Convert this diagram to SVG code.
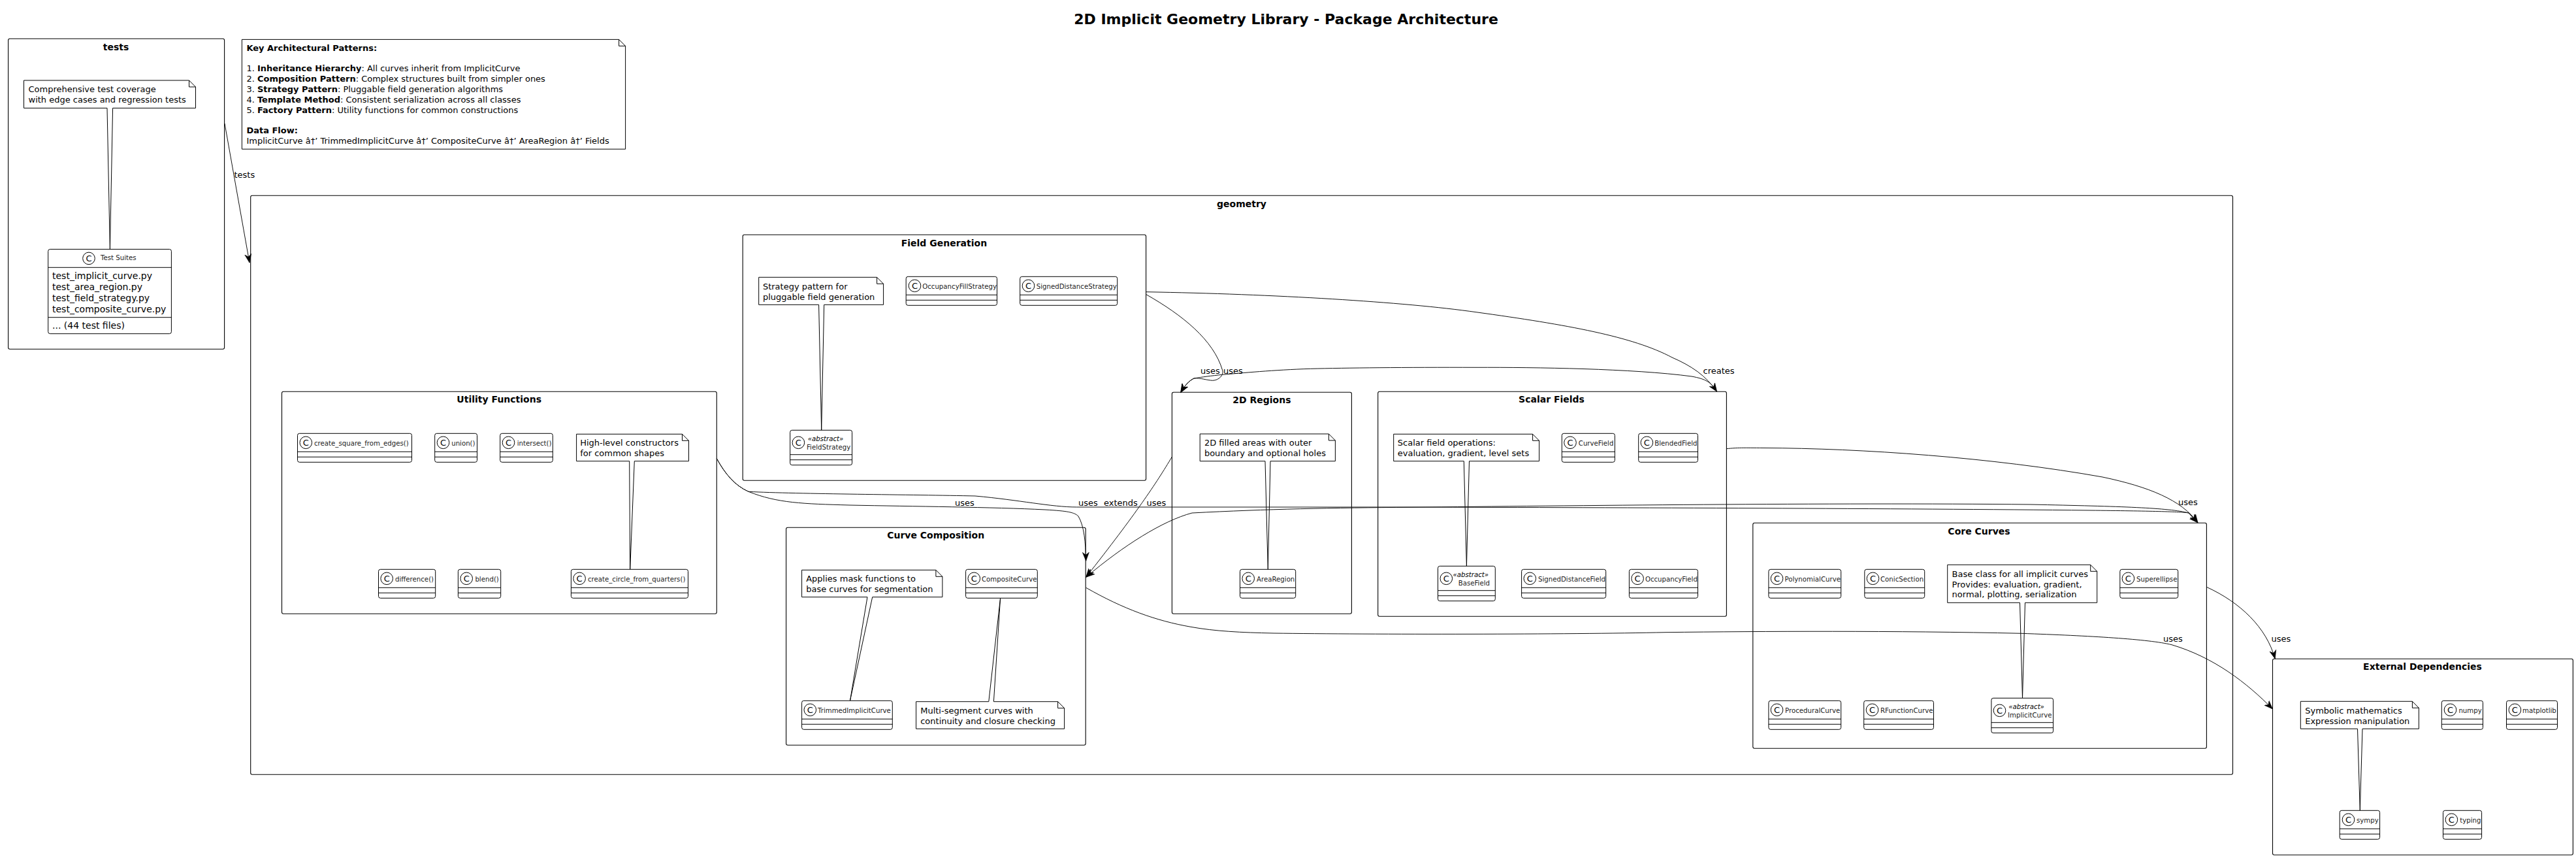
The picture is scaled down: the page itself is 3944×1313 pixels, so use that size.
<svg xmlns="http://www.w3.org/2000/svg" width="3944" height="1313" viewBox="0 0 3944 1313">
<style>
text{font-family:"DejaVu Sans",sans-serif;fill:#000}
.pkg{fill:none;stroke:#000;stroke-width:1.1}
.box{fill:#fff;stroke:#000;stroke-width:1}
.ln{fill:none;stroke:#000;stroke-width:1}
.note{fill:#fff;stroke:#000;stroke-width:1}
.spot{fill:#fff;stroke:#000;stroke-width:1}
.c{font-size:13px;text-anchor:middle}
.cn{font-size:10.2px;fill:#222}
.ab{font-size:10.2px;font-style:italic}
.n{font-size:13px}
.f{font-size:14px}
.pt{font-size:14px;font-weight:700;text-anchor:middle}
.lb{font-size:13px}
.tt{font-size:22px;font-weight:700;text-anchor:middle}
.cx{fill:none;stroke:#111;stroke-width:1}
</style>
<defs>
<marker id="arr" markerUnits="userSpaceOnUse" markerWidth="14" markerHeight="12" refX="13" refY="5" orient="auto" viewBox="0 0 14 10"><path d="M13 5L0 0L4 5L0 10Z" fill="#000" stroke="#000" stroke-width=".6"/></marker>
</defs>
<rect width="3944" height="1313" fill="#fff"/>
<text class="tt" x="1969" y="36.7">2D Implicit Geometry Library - Package Architecture</text>

<g id="packages">
<g id="pkg-tests"><rect class="pkg" x="12.6" y="59.3" width="331" height="475" rx="2.5"/><text class="pt" x="177.5" y="76.7">tests</text></g>
<g id="pkg-geometry"><rect class="pkg" x="383.7" y="299.3" width="3034.8" height="886" rx="2.5"/><text class="pt" x="1901" y="316.7">geometry</text></g>
<g id="pkg-field-generation"><rect class="pkg" x="1137.2" y="359.3" width="617.4" height="376" rx="2.5"/><text class="pt" x="1445.4" y="377">Field Generation</text></g>
<g id="pkg-2d-regions"><rect class="pkg" x="1794.4" y="600.3" width="275" height="339" rx="2.5"/><text class="pt" x="1931.9" y="617">2D Regions</text></g>
<g id="pkg-scalar-fields"><rect class="pkg" x="2109.7" y="599.3" width="533.7" height="344" rx="2.5"/><text class="pt" x="2375.5" y="616">Scalar Fields</text></g>
<g id="pkg-utility"><rect class="pkg" x="431.5" y="599.3" width="665.8" height="340" rx="2.5"/><text class="pt" x="764.2" y="616">Utility Functions</text></g>
<g id="pkg-composition"><rect class="pkg" x="1203.6" y="807.3" width="458.6" height="333" rx="2.5"/><text class="pt" x="1432.7" y="823.7">Curve Composition</text></g>
<g id="pkg-core"><rect class="pkg" x="2683.8" y="800.3" width="694.6" height="345" rx="2.5"/><text class="pt" x="3030" y="817.7">Core Curves</text></g>
<g id="pkg-external"><rect class="pkg" x="3479.5" y="1008.3" width="459.9" height="300" rx="2.5"/><text class="pt" x="3709" y="1025.3">External Dependencies</text></g>
</g>

<g id="note-patterns"><path class="note" d="M370.4 60.4H947.6L957.6 70.4V228.2H370.4ZM947.6 60.4V70.4H957.6"/>
<text class="n" x="377.4" y="77.9" font-weight="700">Key Architectural Patterns:</text>
<text class="n" x="377.4" y="109">1. <tspan font-weight="700">Inheritance Hierarchy</tspan>: All curves inherit from ImplicitCurve</text>
<text class="n" x="377.4" y="125">2. <tspan font-weight="700">Composition Pattern</tspan>: Complex structures built from simpler ones</text>
<text class="n" x="377.4" y="141">3. <tspan font-weight="700">Strategy Pattern</tspan>: Pluggable field generation algorithms</text>
<text class="n" x="377.4" y="157">4. <tspan font-weight="700">Template Method</tspan>: Consistent serialization across all classes</text>
<text class="n" x="377.4" y="173">5. <tspan font-weight="700">Factory Pattern</tspan>: Utility functions for common constructions</text>
<text class="n" x="377.4" y="204" font-weight="700">Data Flow:</text>
<text class="n" x="377.4" y="220.4">ImplicitCurve â†’ TrimmedImplicitCurve â†’ CompositeCurve â†’ AreaRegion â†’ Fields</text></g>

<g id="note-tests"><path class="note" d="M36.5 123H289.5L299.5 133V165.4H172.6L168.4 381.4L164 165.4H36.5ZM289.5 123V133H299.5"/>
<text class="n" x="43.5" y="141">Comprehensive test coverage</text><text class="n" x="43.5" y="157">with edge cases and regression tests</text></g>

<g id="note-strategy"><path class="note" d="M1161.7 424.3H1342.6L1352.6 434.3V466.3H1261.7L1257.7 658.3L1253.6 466.3H1161.7ZM1342.6 424.3V434.3H1352.6"/>
<text class="n" x="1167.9" y="442.7">Strategy pattern for</text><text class="n" x="1167.9" y="458.7">pluggable field generation</text></g>

<g id="note-regions"><path class="note" d="M1837.2 664H2034.4L2044.4 674V705.7H1945L1941.3 871.3L1937 705.7H1837.2ZM2034.4 664V674H2044.4"/>
<text class="n" x="1843.9" y="681.7">2D filled areas with outer</text><text class="n" x="1843.9" y="697.7">boundary and optional holes</text></g>

<g id="note-scalar"><path class="note" d="M2133.7 664.3H2346.6L2356.6 674.3V705.7H2249.5L2245.4 866.3L2241.3 705.7H2133.7ZM2346.6 664.3V674.3H2356.6"/>
<text class="n" x="2139.8" y="681.7">Scalar field operations:</text><text class="n" x="2139.8" y="697.7">evaluation, gradient, level sets</text></g>

<g id="note-utility"><path class="note" d="M882.6 664.3H1044.5L1054.5 674.3V705.7H971.3L964.7 871.3L963.7 705.7H882.6ZM1044.5 664.3V674.3H1054.5"/>
<text class="n" x="888.2" y="681.7">High-level constructors</text><text class="n" x="888.2" y="697.7">for common shapes</text></g>

<g id="note-trimmed"><path class="note" d="M1227.6 872.3H1432.9L1442.9 882.3V913.7H1335.7L1301.5 1072.3L1328 913.7H1227.6ZM1432.9 872.3V882.3H1442.9"/>
<text class="n" x="1234.2" y="890">Applies mask functions to</text><text class="n" x="1234.2" y="906">base curves for segmentation</text></g>

<g id="note-composite"><path class="note" d="M1402.6 1073.7H1513.8L1531.6 915.3L1521.4 1073.7H1619.6L1629.6 1083.7V1115.3H1402.6ZM1619.6 1073.7V1083.7H1629.6"/>
<text class="n" x="1409.2" y="1091.7">Multi-segment curves with</text><text class="n" x="1409.2" y="1107.7">continuity and closure checking</text></g>

<g id="note-core"><path class="note" d="M2981.7 864.3H3200.7L3210.7 874.3V922.3H3100.5L3096.5 1068.3L3092.5 922.3H2981.7ZM3200.7 864.3V874.3H3210.7"/>
<text class="n" x="2988.6" y="882.7">Base class for all implicit curves</text><text class="n" x="2988.6" y="898.7">Provides: evaluation, gradient,</text><text class="n" x="2988.6" y="914">normal, plotting, serialization</text></g>

<g id="note-sympy"><path class="note" d="M3522.3 1073.3H3693.4L3703.4 1083.3V1115.3H3617L3613.3 1240.3L3609.5 1115.3H3522.3ZM3693.4 1073.3V1083.3H3703.4"/>
<text class="n" x="3529.2" y="1091.7">Symbolic mathematics</text><text class="n" x="3529.2" y="1107.7">Expression manipulation</text></g>

<g id="class-test-suites"><rect class="box" x="73.7" y="381.4" width="188.7" height="129.3" rx="3"/><path class="ln" d="M73.7 409.3H262.4M73.7 485.7H262.4"/><circle class="spot" cx="136" cy="395.4" r="9.3"/><text class="c" x="136" y="400.1">C</text><text class="cn" x="154" y="398">Test Suites</text>
<text class="f" x="80" y="426.8">test_implicit_curve.py</text><text class="f" x="80" y="444">test_area_region.py</text><text class="f" x="80" y="460.7">test_field_strategy.py</text><text class="f" x="80" y="477.9">test_composite_curve.py</text><text class="f" x="80" y="502.5">... (44 test files)</text></g>

<g id="class-occupancy-fill-strategy"><rect class="box" x="1387.2" y="423.3" width="139.3" height="44" rx="3"/><path class="ln" d="M1387.2 451.3h139.3M1387.2 459.3h139.3"/><circle class="spot" cx="1400.5" cy="437.3" r="9.3"/><text class="c" x="1400.5" y="442">C</text><text class="cn" x="1412.2" y="441.7">OccupancyFillStrategy</text></g>
<g id="class-signed-distance-strategy"><rect class="box" x="1561.7" y="423.3" width="149" height="44" rx="3"/><path class="ln" d="M1561.7 451.3h149M1561.7 459.3h149"/><circle class="spot" cx="1574.5" cy="437.3" r="9.3"/><text class="c" x="1574.5" y="442">C</text><text class="cn" x="1586.7" y="441.7">SignedDistanceStrategy</text></g>
<g id="class-field-strategy"><rect class="box" x="1209.7" y="658.3" width="94.9" height="53.4" rx="3"/><path class="ln" d="M1209.7 695.7h94.9M1209.7 703.7h94.9"/><circle class="spot" cx="1222.4" cy="677.3" r="9.3"/><text class="c" x="1222.4" y="682">C</text><text class="ab" x="1236.7" y="675">«abstract»</text><text class="cn" x="1235" y="687.7">FieldStrategy</text></g>
<g id="class-area-region"><rect class="box" x="1898.5" y="871.3" width="85.2" height="44" rx="3"/><path class="ln" d="M1898.5 899.3h85.2M1898.5 907.3h85.2"/><circle class="spot" cx="1911.2" cy="885.3" r="9.3"/><text class="c" x="1911.2" y="890">C</text><text class="cn" x="1924" y="889.7">AreaRegion</text></g>
<g id="class-curve-field"><rect class="box" x="2391.3" y="663.3" width="81.1" height="44" rx="3"/><path class="ln" d="M2391.3 691.3h81.1M2391.3 699.3h81.1"/><circle class="spot" cx="2404" cy="677.3" r="9.3"/><text class="c" x="2404" y="682">C</text><text class="cn" x="2416.8" y="681.7">CurveField</text></g>
<g id="class-blended-field"><rect class="box" x="2508.7" y="663.3" width="90.8" height="44" rx="3"/><path class="ln" d="M2508.7 691.3h90.8M2508.7 699.3h90.8"/><circle class="spot" cx="2521.4" cy="677.3" r="9.3"/><text class="c" x="2521.4" y="682">C</text><text class="cn" x="2533.2" y="681.7">BlendedField</text></g>
<g id="class-base-field"><rect class="box" x="2201.5" y="866.3" width="87.8" height="53.4" rx="3"/><path class="ln" d="M2201.5 903.7h87.8M2201.5 911.7h87.8"/><circle class="spot" cx="2214.3" cy="885.3" r="9.3"/><text class="c" x="2214.3" y="890">C</text><text class="ab" x="2224.5" y="883.3">«abstract»</text><text class="cn" x="2232.7" y="895.7">BaseField</text></g>
<g id="class-signed-distance-field"><rect class="box" x="2329.6" y="871.3" width="129.1" height="44" rx="3"/><path class="ln" d="M2329.6 899.3h129.1M2329.6 907.3h129.1"/><circle class="spot" cx="2342.3" cy="885.3" r="9.3"/><text class="c" x="2342.3" y="890">C</text><text class="cn" x="2355" y="889.7">SignedDistanceField</text></g>
<g id="class-occupancy-field"><rect class="box" x="2494.4" y="871.3" width="105.1" height="44" rx="3"/><path class="ln" d="M2494.4 899.3h105.1M2494.4 907.3h105.1"/><circle class="spot" cx="2507.1" cy="885.3" r="9.3"/><text class="c" x="2507.1" y="890">C</text><text class="cn" x="2518.9" y="889.7">OccupancyField</text></g>
<g id="class-create-square"><rect class="box" x="455.5" y="663.3" width="175" height="44" rx="3"/><path class="ln" d="M455.5 691.3h175M455.5 699.3h175"/><circle class="spot" cx="468.3" cy="677.3" r="9.3"/><text class="c" x="468.3" y="682">C</text><text class="cn" x="481" y="681.7">create_square_from_edges()</text></g>
<g id="class-union"><rect class="box" x="665.7" y="663.3" width="64.8" height="44" rx="3"/><path class="ln" d="M665.7 691.3h64.8M665.7 699.3h64.8"/><circle class="spot" cx="678.5" cy="677.3" r="9.3"/><text class="c" x="678.5" y="682">C</text><text class="cn" x="691.2" y="681.7">union()</text></g>
<g id="class-intersect"><rect class="box" x="765.7" y="663.3" width="80.6" height="44" rx="3"/><path class="ln" d="M765.7 691.3h80.6M765.7 699.3h80.6"/><circle class="spot" cx="778.5" cy="677.3" r="9.3"/><text class="c" x="778.5" y="682">C</text><text class="cn" x="791.7" y="681.7">intersect()</text></g>
<g id="class-difference"><rect class="box" x="579.5" y="871.3" width="87.2" height="44" rx="3"/><path class="ln" d="M579.5 899.3h87.2M579.5 907.3h87.2"/><circle class="spot" cx="592.2" cy="885.3" r="9.3"/><text class="c" x="592.2" y="890">C</text><text class="cn" x="605" y="889.7">difference()</text></g>
<g id="class-blend"><rect class="box" x="701.4" y="871.3" width="65.3" height="44" rx="3"/><path class="ln" d="M701.4 899.3h65.3M701.4 907.3h65.3"/><circle class="spot" cx="714.2" cy="885.3" r="9.3"/><text class="c" x="714.2" y="890">C</text><text class="cn" x="727.4" y="889.7">blend()</text></g>
<g id="class-create-circle"><rect class="box" x="874.4" y="871.3" width="179.1" height="44" rx="3"/><path class="ln" d="M874.4 899.3h179.1M874.4 907.3h179.1"/><circle class="spot" cx="887.1" cy="885.3" r="9.3"/><text class="c" x="887.1" y="890">C</text><text class="cn" x="899.9" y="889.7">create_circle_from_quarters()</text></g>
<g id="class-composite-curve"><rect class="box" x="1478.6" y="871.3" width="109.7" height="44" rx="3"/><path class="ln" d="M1478.6 899.3h109.7M1478.6 907.3h109.7"/><circle class="spot" cx="1491.3" cy="885.3" r="9.3"/><text class="c" x="1491.3" y="890">C</text><text class="cn" x="1503" y="889.7">CompositeCurve</text></g>
<g id="class-trimmed-implicit-curve"><rect class="box" x="1227.6" y="1072.3" width="138.7" height="44" rx="3"/><path class="ln" d="M1227.6 1100.3h138.7M1227.6 1108.3h138.7"/><circle class="spot" cx="1240.3" cy="1086.3" r="9.3"/><text class="c" x="1240.3" y="1091">C</text><text class="cn" x="1252" y="1090.7">TrimmedImplicitCurve</text></g>
<g id="class-polynomial-curve"><rect class="box" x="2707.9" y="871.3" width="110.8" height="44" rx="3"/><path class="ln" d="M2707.9 899.3h110.8M2707.9 907.3h110.8"/><circle class="spot" cx="2720.5" cy="885.3" r="9.3"/><text class="c" x="2720.5" y="890">C</text><text class="cn" x="2732.5" y="889.7">PolynomialCurve</text></g>
<g id="class-conic-section"><rect class="box" x="2854.8" y="871.3" width="91.9" height="44" rx="3"/><path class="ln" d="M2854.8 899.3h91.9M2854.8 907.3h91.9"/><circle class="spot" cx="2867.5" cy="885.3" r="9.3"/><text class="c" x="2867.5" y="890">C</text><text class="cn" x="2879" y="889.7">ConicSection</text></g>
<g id="class-superellipse"><rect class="box" x="3245.8" y="871.3" width="88.9" height="44" rx="3"/><path class="ln" d="M3245.8 899.3h88.9M3245.8 907.3h88.9"/><circle class="spot" cx="3258.4" cy="885.3" r="9.3"/><text class="c" x="3258.4" y="890">C</text><text class="cn" x="3271" y="889.7">Superellipse</text></g>
<g id="class-procedural-curve"><rect class="box" x="2707.9" y="1072.3" width="110.8" height="44" rx="3"/><path class="ln" d="M2707.9 1100.3h110.8M2707.9 1108.3h110.8"/><circle class="spot" cx="2720.5" cy="1086.3" r="9.3"/><text class="c" x="2720.5" y="1091">C</text><text class="cn" x="2733" y="1090.7">ProceduralCurve</text></g>
<g id="class-rfunction-curve"><rect class="box" x="2853.7" y="1072.3" width="106.8" height="44" rx="3"/><path class="ln" d="M2853.7 1100.3h106.8M2853.7 1108.3h106.8"/><circle class="spot" cx="2866.5" cy="1086.3" r="9.3"/><text class="c" x="2866.5" y="1091">C</text><text class="cn" x="2879" y="1090.7">RFunctionCurve</text></g>
<g id="class-implicit-curve"><rect class="box" x="3048.9" y="1068.3" width="94.7" height="53.4" rx="3"/><path class="ln" d="M3048.9 1105.7h94.7M3048.9 1113.7h94.7"/><circle class="spot" cx="3061.5" cy="1087.3" r="9.3"/><text class="c" x="3061.5" y="1092">C</text><text class="ab" x="3075.3" y="1085">«abstract»</text><text class="cn" x="3074" y="1097.7">ImplicitCurve</text></g>
<g id="class-numpy"><rect class="box" x="3738.3" y="1072.3" width="63.2" height="44" rx="3"/><path class="ln" d="M3738.3 1100.3h63.2M3738.3 1108.3h63.2"/><circle class="spot" cx="3751.5" cy="1086.3" r="9.3"/><text class="c" x="3751.5" y="1091">C</text><text class="cn" x="3764.4" y="1090.7">numpy</text></g>
<g id="class-matplotlib"><rect class="box" x="3837.5" y="1072.3" width="78" height="44" rx="3"/><path class="ln" d="M3837.5 1100.3h78M3837.5 1108.3h78"/><circle class="spot" cx="3850.4" cy="1086.3" r="9.3"/><text class="c" x="3850.4" y="1091">C</text><text class="cn" x="3862" y="1090.7">matplotlib</text></g>
<g id="class-sympy"><rect class="box" x="3582.2" y="1240.3" width="61.4" height="44" rx="3"/><path class="ln" d="M3582.2 1268.3h61.4M3582.2 1276.3h61.4"/><circle class="spot" cx="3595.5" cy="1254.3" r="9.3"/><text class="c" x="3595.5" y="1259">C</text><text class="cn" x="3608" y="1258.7">sympy</text></g>
<g id="class-typing"><rect class="box" x="3740.5" y="1240.3" width="59.1" height="44" rx="3"/><path class="ln" d="M3740.5 1268.3h59.1M3740.5 1276.3h59.1"/><circle class="spot" cx="3753.4" cy="1254.3" r="9.3"/><text class="c" x="3753.4" y="1259">C</text><text class="cn" x="3766.3" y="1258.7">typing</text></g>

<g id="connectors">
<path class="cx" marker-end="url(#arr)" d="M344 189L382 402"/>
<path class="cx" marker-end="url(#arr)" d="M1754.7 446.7C1950 450 2150 462 2260 477.7C2400 497 2500 515 2560 547C2590 560 2612 575 2628.7 599.3"/>
<path class="cx" marker-end="url(#arr)" d="M1755 450.7C1810 482 1858 520 1871.7 566.7C1874 574 1866 582 1856.7 582.3C1848 582 1838 578 1828 579C1820 583 1814 590 1807.7 600.7"/>
<path class="cx" marker-end="url(#arr)" d="M2628.7 599.3C2620 585 2612 580 2590 576C2500 564 2350 562 2260 562.3C2150 562 2060 563 2006.7 564.3C1950 566 1900 571 1871.7 573.3C1855 575 1840 577 1828 579C1820 583 1814 590 1807.7 600.7"/>
<path class="cx" marker-end="url(#arr)" d="M2643.4 686.7C2660 685 2670 685.3 2700 685.5C2850 686 3050 700 3219 730C3290 745 3340 765 3365 800"/>
<path class="cx" marker-end="url(#arr)" d="M1097.3 701.7C1110 725 1125 743 1146 752.3C1190 770 1230 771 1300 773C1400 775 1520 776 1600 780C1635 782 1645 784 1651 790C1660 805 1662 830 1662.7 858.3"/>
<path class="cx" marker-end="url(#arr)" d="M1097.3 701.7C1110 725 1125 743 1146 752.3C1220 756 1400 757 1493 759C1560 765 1610 776 1648.5 776H2160C2500 777 2900 778 3200 781C3290 782 3340 783 3351 785L3365 800"/>
<path class="cx" marker-end="url(#arr)" d="M1794.4 699C1770 740 1740 785 1662.7 883.3"/>
<path class="cx" marker-end="url(#arr)" d="M3365 800L3351 785C3320 777 3250 775 3109 772C2800 769 2400 774 2160 776.3C2040 777 1940 779 1825 785C1780 797 1720 835 1662.7 883.3"/>
<path class="cx" marker-end="url(#arr)" d="M1662.7 899.3C1720 932 1770 950 1823 959.3C1860 966 1900 968 1950 969C2100 971 2400 971 2550 967.7C2700 966 2900 965 3095 969.3C3200 973 3290 978 3325 986.7C3390 1006 3440 1045 3479.5 1085"/>
<path class="cx" marker-end="url(#arr)" d="M3378.4 898.3C3430 922 3470 960 3483.3 1008.3"/>
</g>
<g id="connector-labels">
<text class="lb" x="358.5" y="272">tests</text>
<text class="lb" x="1838" y="571.7">uses</text>
<text class="lb" x="1873" y="571.7">uses</text>
<text class="lb" x="2607.6" y="571.7">creates</text>
<text class="lb" x="1462" y="774">uses</text>
<text class="lb" x="1651" y="774">uses</text>
<text class="lb" x="1690" y="774">extends</text>
<text class="lb" x="1755.6" y="774">uses</text>
<text class="lb" x="3335" y="773.3">uses</text>
<text class="lb" x="3312" y="981.7">uses</text>
<text class="lb" x="3477.6" y="981.7">uses</text>
</g>
</svg>
